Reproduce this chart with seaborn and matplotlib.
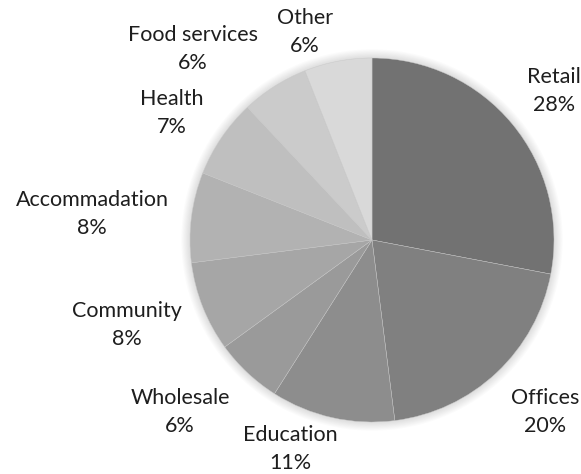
import matplotlib
matplotlib.use("Agg")
import matplotlib.pyplot as plt
import matplotlib.patches as mpatches
import seaborn as sns

# Floor-space share by building use
categories = ["Retail", "Offices", "Education", "Wholesale", "Community",
              "Accommadation", "Health", "Food services", "Other"]
shares = [28, 20, 11, 6, 8, 8, 7, 6, 6]

# Grey ramp, darkest for the first slice
slice_colors = ["#727272", "#808080", "#8d8d8d", "#9a9a9a", "#a6a6a6",
                "#b2b2b2", "#bfbfbf", "#cbcbcb", "#d9d9d9"]

# Label anchor points in units of the pie radius
label_xy = [(1.0, 0.819), (0.951, -0.945), (-0.451, -1.148),
            (-1.055, -0.945), (-1.346, -0.467), (-1.538, 0.143),
            (-1.099, 0.698), (-0.984, 1.049), (-0.368, 1.143)]

sns.set_theme(style="white")
plt.rcParams["font.family"] = ["Lato", "DejaVu Sans"]

fig = plt.figure(figsize=(5.81, 4.74), dpi=100)
ax = fig.add_axes([0, 0, 1, 1])

# soft halo around the pie
for i in range(8):
    ax.add_patch(mpatches.Circle((0, 0), 1 + 0.006 * (i + 1),
                                 color="black", alpha=0.015, lw=0, zorder=0))

total = sum(shares)
wedges, _ = ax.pie(shares, colors=slice_colors, startangle=90,
                   counterclock=False, radius=1,
                   wedgeprops=dict(edgecolor="#c8c8c8", linewidth=0.3),
                   frame=True)
for w in wedges:
    w.set_zorder(2)
ax.set_xlim(-372 / 182, (581 - 372) / 182)
ax.set_ylim(-(474 - 240) / 182, 240 / 182)
ax.set_aspect("auto")
ax.set_axis_off()

for name, val, (lx, ly) in zip(categories, shares, label_xy):
    ax.text(lx, ly, f"{name}\n{round(100 * val / total)}%",
            ha="center", va="center", fontsize=15.5, color="#1e1e1e",
            linespacing=1.5)

fig.savefig("out.png", dpi=100)
